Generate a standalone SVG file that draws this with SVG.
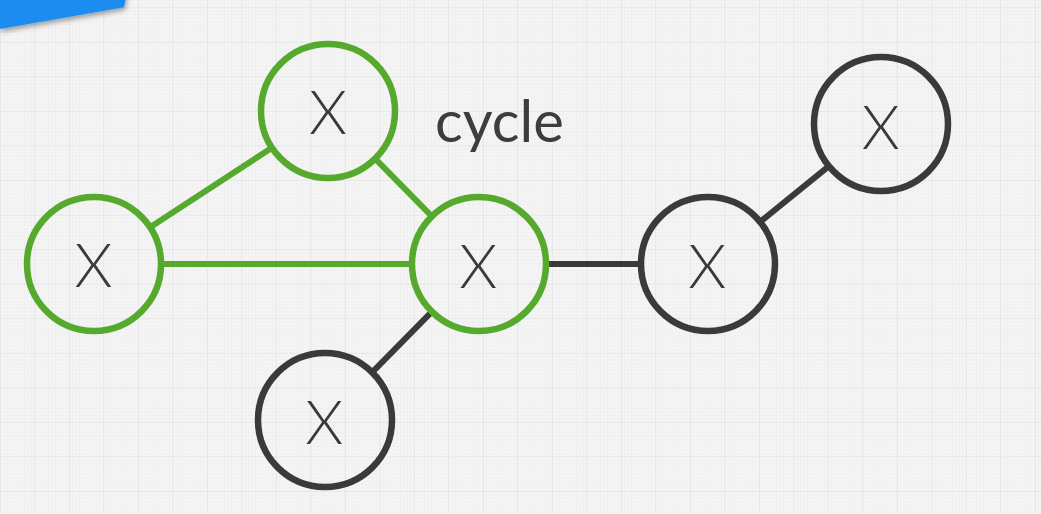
<svg xmlns="http://www.w3.org/2000/svg" width="1041" height="514" viewBox="0 0 1041 514">
<style>
.node-g circle{fill:none;stroke:#55aa2e;stroke-width:6.5}
.node-d circle{fill:none;stroke:#3a3a3a;stroke-width:6.5}
.lbl{font-family:Lato,"Liberation Sans",sans-serif;font-weight:300;font-size:61px;fill:#3a3a3a;text-anchor:middle}
.edge-g{stroke:#55aa2e;stroke-width:6;stroke-linecap:butt}
.edge-d{stroke:#3a3a3a;stroke-width:6;stroke-linecap:butt}
.note{font-family:Lato,"Liberation Sans",sans-serif;font-weight:400;font-size:58px;fill:#3d3d3d}
</style>
<defs>
<pattern id="minor" width="3.45" height="3.455" patternUnits="userSpaceOnUse" x="-0.2" y="7.3">
<path d="M0 0H3.45M0 0V3.455" stroke="#e9e9e9" stroke-width="0.8" fill="none"/>
</pattern>
<pattern id="major" width="34.5" height="34.55" patternUnits="userSpaceOnUse" x="-0.2" y="7.3">
<path d="M0 0H34.5M0 0V34.55" stroke="#e3e3e3" stroke-width="1.6" fill="none"/>
</pattern>
<filter id="shadow" x="-20%" y="-50%" width="140%" height="250%">
<feDropShadow dx="1" dy="3" stdDeviation="2.5" flood-color="#000" flood-opacity="0.35"/>
</filter>
</defs>
<rect width="1041" height="514" fill="#f5f5f5"/>
<rect width="1041" height="514" fill="url(#minor)"/>
<rect width="1041" height="514" fill="url(#major)"/>
<polygon points="0,-10 127.5,-10 124,7.3 0,29" fill="#1a8cf0" filter="url(#shadow)"/>
<g id="connectors">
<line class="edge-g" x1="150.1" y1="227.3" x2="271.9" y2="147.7"/>
<line class="edge-g" x1="375.1" y1="158.7" x2="431.9" y2="216.3"/>
<line class="edge-g" x1="161" y1="264" x2="412" y2="264"/>
<line class="edge-d" x1="431.9" y1="311.7" x2="372.1" y2="372.3"/>
<line class="edge-d" x1="546" y1="264" x2="641" y2="264"/>
<line class="edge-d" x1="760.1" y1="221.9" x2="828.9" y2="166.1"/>
</g>
<g id="node-top" class="node-g"><circle cx="328" cy="111" r="67"/><text class="lbl" x="328" y="134">X</text></g>
<g id="node-left" class="node-g"><circle cx="94" cy="264" r="67"/><text class="lbl" x="93.5" y="287.3">X</text></g>
<g id="node-mid" class="node-g"><circle cx="479" cy="264" r="67"/><text class="lbl" x="478.3" y="288.3">X</text></g>
<g id="node-bottom" class="node-d"><circle cx="325" cy="420" r="67"/><text class="lbl" x="324.3" y="444">X</text></g>
<g id="node-right" class="node-d"><circle cx="708" cy="264" r="67"/><text class="lbl" x="707.3" y="288.3">X</text></g>
<g id="node-topright" class="node-d"><circle cx="881" cy="124" r="67"/><text class="lbl" x="880.8" y="148.7">X</text></g>
<text id="label-cycle" class="note" x="435" y="141.7">cycle</text>
</svg>
